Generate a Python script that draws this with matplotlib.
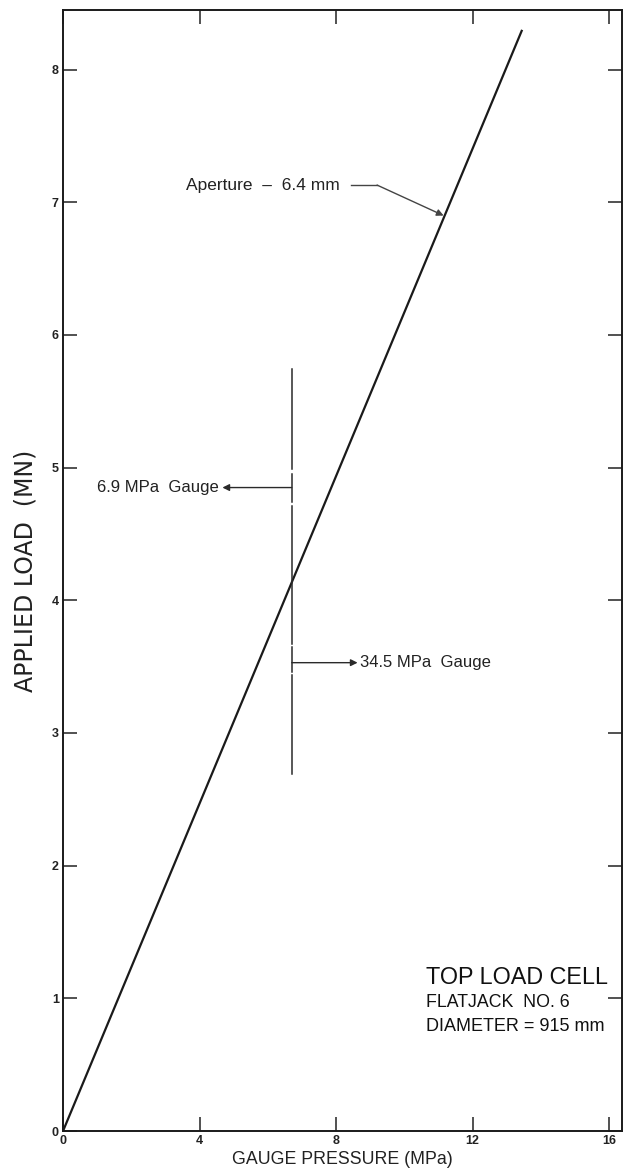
import numpy as np
import matplotlib.pyplot as plt

plt.rcParams['font.family'] = ['Liberation Sans', 'DejaVu Sans']

# calibration line (gauge pressure MPa -> applied load MN)
pression = [0.0, 13.45]
charge = [0.0, 8.3]

x_ticks = [0, 4, 8, 12, 16]
y_ticks = [0, 1, 2, 3, 4, 5, 6, 7, 8]

# gauge switch marker (vertical line at 6.7 MPa), split into segments
x_jauge = 6.7
segments_jauge = [(5.74, 4.99), (4.955, 4.74), (4.71, 3.67), (3.645, 3.46), (3.44, 2.69)]
y_fleche_69 = 4.85
x_fleche_69 = 4.67
y_fleche_345 = 3.53
x_fleche_345 = 8.63

fig = plt.figure(figsize=(6.24, 11.69), dpi=100)
ax = fig.add_axes([0.101, 0.0325, 0.896, 0.959])

ax.plot(pression, charge, color='#1a1a1a', lw=1.6, solid_capstyle='butt')

for y0, y1 in segments_jauge:
    ax.plot([x_jauge, x_jauge], [y0, y1], color='#2a2a2a', lw=1.1)

# gauge arrows
fleche = dict(arrowstyle='-|>', color='#2a2a2a', lw=1.0, mutation_scale=10, shrinkA=0, shrinkB=0)
ax.annotate('', xy=(x_fleche_69, y_fleche_69), xytext=(x_jauge, y_fleche_69), arrowprops=fleche)
ax.text(x_fleche_69 - 0.1, y_fleche_69, '6.9 MPa  Gauge', ha='right', va='center',
        fontsize=12, color='#222222')
ax.annotate('', xy=(x_fleche_345, y_fleche_345), xytext=(x_jauge, y_fleche_345), arrowprops=fleche)
ax.text(x_fleche_345 + 0.08, y_fleche_345, '34.5 MPa  Gauge', ha='left', va='center',
        fontsize=12, color='#222222')

# aperture label with bent leader
ax.text(3.6, 7.13, 'Aperture  –  6.4 mm', ha='left', va='center', fontsize=12.5, color='#222222')
ax.plot([8.45, 9.2], [7.13, 7.13], color='#444444', lw=1.0)
ax.annotate('', xy=(11.15, 6.9), xytext=(9.2, 7.13),
            arrowprops=dict(arrowstyle='-|>', color='#444444', lw=1.0, mutation_scale=10,
                            shrinkA=0, shrinkB=0))

# title block
ax.text(10.63, 1.16, 'TOP LOAD CELL', ha='left', va='center', fontsize=16.8, color='#111111')
ax.text(10.63, 0.97, 'FLATJACK  NO. 6', ha='left', va='center', fontsize=12.8, color='#111111')
ax.text(10.63, 0.79, 'DIAMETER = 915 mm', ha='left', va='center', fontsize=13, color='#111111')

ax.set_xlim(0, 16.38)
ax.set_ylim(0, 8.45)
ax.set_xticks(x_ticks)
ax.set_yticks(y_ticks)
ax.tick_params(direction='in', length=10, width=1.1, top=True, right=True,
               labelsize=9, pad=3, colors='#222222')
for lab in ax.get_xticklabels() + ax.get_yticklabels():
    lab.set_fontweight('bold')
for s in ax.spines.values():
    s.set_linewidth(1.4)
    s.set_color('#1a1a1a')

ax.set_xlabel('GAUGE PRESSURE (MPa)', fontsize=12.8, color='#222222', labelpad=3)
ax.set_ylabel('APPLIED LOAD  (MN)', fontsize=17, color='#222222', labelpad=10,
              family=['DejaVu Sans'])

fig.savefig('out.png', dpi=100)
